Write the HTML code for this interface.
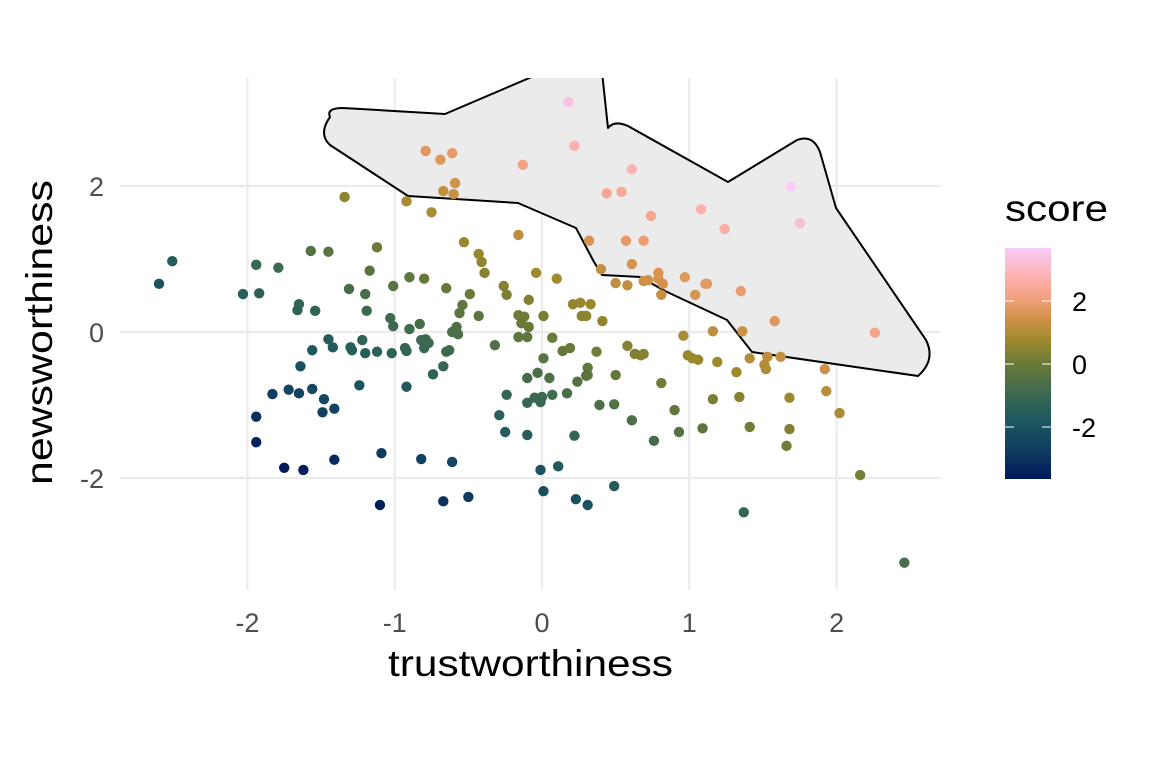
<!DOCTYPE html>
<html><head><meta charset="utf-8"><style>
html,body{margin:0;padding:0;background:#fff;}
svg{display:block;font-family:"Liberation Sans",sans-serif;}
</style></head><body>
<svg id="chart" width="1152" height="768" viewBox="0 0 1152 768">
<defs>
<clipPath id="panelclip"><rect x="0" y="78" width="1152" height="600"/></clipPath>
<linearGradient id="cbar" x1="0" y1="1" x2="0" y2="0">
<stop offset="0" stop-color="#011959"/>
<stop offset="0.125" stop-color="#0f3c5f"/>
<stop offset="0.25" stop-color="#1d5860"/>
<stop offset="0.375" stop-color="#3d6a4f"/>
<stop offset="0.5" stop-color="#6a7a38"/>
<stop offset="0.6" stop-color="#9e892c"/>
<stop offset="0.7" stop-color="#d3924a"/>
<stop offset="0.78" stop-color="#f1a07c"/>
<stop offset="0.88" stop-color="#fcb2b2"/>
<stop offset="1" stop-color="#f9ccf9"/>
</linearGradient>
</defs>
<g id="grid"></g>
<path clip-path="url(#panelclip)" fill="#ebebeb" stroke="#000" stroke-width="2" stroke-linejoin="round"
d="M330,117 Q326,108 343,108 L445,114 L548,70 L602,72 L608,128 Q614,120 628,126 L728,182 L797,140 Q813,134 820,152 L836,208 L926,340 Q936,360 918,376 L752,352 L727,320 L665,291 L640,277 L602,275 L594,262 L576,228 L518,203 L408,196 L330,145 Q318,134 330,117 Z"/>
<g id="points"></g>
<g id="axes"></g>
<text x="388" y="676" font-size="37" textLength="285" lengthAdjust="spacingAndGlyphs" fill="#000">trustworthiness</text>
<text transform="translate(52,485) rotate(-90)" font-size="37" textLength="305" lengthAdjust="spacingAndGlyphs" fill="#000">newsworthiness</text>
<g>
<text x="1005" y="221" font-size="37" textLength="103" lengthAdjust="spacingAndGlyphs" fill="#000">score</text>
<rect x="1005" y="248" width="46" height="231" fill="url(#cbar)"/>
<g id="legendticks"></g>
</g>
</svg>
<script>
const xTicks=[-2,-1,0,1,2];
const yTicks=[-2,0,2];
const legendTicks=[-2,0,2];
const trust=[0.18,0.22,-0.13,0.61,-0.79,-0.69,-0.61,-0.59,-0.67,-0.60,-1.34,-0.92,-0.75,0.44,0.54,0.74,1.08,1.69,1.75,1.24,-0.16,0.32,0.57,0.69,-0.53,-0.43,-0.41,-0.39,-1.57,-1.45,-1.12,-2.51,-1.94,-1.79,0.40,0.61,-0.04,0.10,0.50,0.58,0.69,0.72,0.79,0.82,0.97,1.11,0.79,1.35,-2.60,-2.03,-1.92,-1.17,-0.90,-0.80,-1.31,-1.20,-1.01,-0.65,-0.26,-0.24,-0.49,-0.09,0.21,0.26,0.33,-0.54,-0.56,-1.65,-1.66,-1.54,-1.19,-1.03,-0.43,-0.16,-0.12,-0.14,-0.09,0.01,0.27,0.30,0.41,0.81,1.04,1.12,1.58,1.36,1.16,2.26,-0.83,-0.58,-0.57,-0.61,-1.22,-1.20,-1.01,-0.90,-0.93,-1.45,-0.32,-0.16,-0.10,0.07,0.14,0.19,0.01,-0.92,-0.77,-0.80,-0.63,-0.65,-0.79,-0.82,-0.74,-0.67,-1.42,-1.30,-1.29,-1.12,-1.02,-1.56,0.96,0.99,1.02,1.06,1.19,0.58,0.67,0.63,0.69,0.37,1.41,1.62,1.53,1.32,1.51,1.52,1.92,0.05,-0.03,-0.10,0.31,0.30,0.31,0.24,0.50,0.81,1.34,1.68,1.93,-0.24,0.00,-0.05,-0.01,-0.10,0.07,0.17,0.39,0.49,0.90,2.02,-1.24,-0.92,-1.83,-1.65,-1.64,-1.72,-1.56,-1.48,-1.41,-0.29,0.61,0.76,0.93,1.09,1.16,1.41,1.68,1.66,-1.94,-1.94,-1.49,-0.25,-0.10,0.22,-1.09,-1.75,-1.62,-1.41,-0.82,-0.61,-0.01,0.11,0.01,0.49,0.23,0.31,-0.67,-0.50,-1.10,1.37,2.16,2.46];
const news=[3.15,2.55,2.29,2.23,2.48,2.36,2.45,2.04,1.93,1.89,1.85,1.79,1.64,1.90,1.92,1.59,1.68,1.99,1.49,1.41,1.33,1.25,1.25,1.25,1.23,1.07,0.96,0.81,1.11,1.10,1.16,0.97,0.92,0.88,0.86,0.93,0.81,0.73,0.67,0.64,0.70,0.71,0.73,0.66,0.75,0.66,0.81,0.56,0.66,0.52,0.53,0.84,0.75,0.73,0.59,0.52,0.63,0.60,0.63,0.51,0.52,0.44,0.38,0.40,0.38,0.37,0.26,0.38,0.30,0.29,0.29,0.19,0.22,0.23,0.21,0.12,0.07,0.22,0.22,0.22,0.15,0.51,0.51,0.66,0.15,0.01,0.01,-0.01,0.11,0.07,-0.03,0.00,-0.11,-0.29,0.08,0.04,-0.22,-0.10,-0.18,-0.07,-0.07,-0.08,-0.26,-0.22,-0.36,-0.26,-0.15,-0.22,-0.25,-0.27,-0.10,-0.11,-0.58,-0.47,-0.21,-0.21,-0.25,-0.27,-0.29,-0.25,-0.05,-0.32,-0.36,-0.38,-0.41,-0.19,-0.32,-0.30,-0.30,-0.27,-0.36,-0.34,-0.34,-0.55,-0.45,-0.51,-0.51,-0.63,-0.56,-0.63,-0.49,-0.60,-0.59,-0.68,-0.59,-0.70,-0.89,-0.90,-0.81,-0.86,-0.89,-0.90,-0.96,-0.97,-0.86,-0.84,-1.00,-0.99,-1.07,-1.11,-0.73,-0.75,-0.85,-0.84,-0.47,-0.79,-0.78,-0.92,-1.05,-1.14,-1.21,-1.49,-1.37,-1.32,-0.92,-1.30,-1.33,-1.56,-1.16,-1.51,-1.10,-1.37,-1.41,-1.42,-1.66,-1.86,-1.89,-1.75,-1.74,-1.78,-1.89,-1.84,-2.18,-2.11,-2.29,-2.37,-2.32,-2.26,-2.37,-2.47,-1.96,-3.16];
const score=[3.33,2.77,2.16,2.84,1.69,1.67,1.84,1.45,1.26,1.29,0.51,0.87,0.89,2.34,2.46,2.33,2.76,3.68,3.24,2.65,1.17,1.57,1.82,1.94,0.70,0.64,0.55,0.42,-0.46,-0.35,0.04,-1.54,-1.02,-0.91,1.26,1.54,0.77,0.83,1.17,1.22,1.39,1.43,1.52,1.48,1.72,1.77,1.60,1.91,-1.94,-1.51,-1.39,-0.33,-0.15,-0.07,-0.72,-0.68,-0.38,-0.05,0.37,0.27,0.03,0.35,0.59,0.66,0.71,-0.17,-0.30,-1.27,-1.36,-1.25,-0.90,-0.84,-0.21,0.07,0.09,-0.02,-0.02,0.23,0.49,0.52,0.56,1.32,1.55,1.78,1.73,1.37,1.17,2.25,-0.72,-0.51,-0.60,-0.61,-1.33,-1.49,-0.93,-0.86,-1.15,-1.55,-0.50,-0.23,-0.17,-0.01,-0.12,-0.03,-0.35,-1.18,-0.92,-1.02,-0.88,-0.92,-0.89,-0.93,-1.32,-1.14,-1.63,-1.51,-1.54,-1.39,-1.31,-1.81,0.91,0.67,0.66,0.68,0.78,0.39,0.35,0.33,0.39,0.10,1.05,1.28,1.19,0.77,1.06,1.01,1.41,-0.58,-0.59,-0.73,-0.18,-0.30,-0.28,-0.44,-0.09,0.11,0.45,0.78,1.12,-1.10,-0.89,-0.95,-0.97,-1.07,-0.79,-0.67,-0.61,-0.50,-0.17,0.91,-1.97,-1.67,-2.68,-2.49,-2.11,-2.51,-2.34,-2.40,-2.46,-1.43,-0.60,-0.73,-0.44,-0.23,0.24,0.11,0.35,0.10,-3.10,-3.45,-2.59,-1.62,-1.51,-1.20,-2.75,-3.61,-3.51,-3.16,-2.56,-2.39,-1.90,-1.73,-2.17,-1.62,-2.06,-2.06,-2.99,-2.76,-3.47,-1.10,0.20,-0.70];

const NS="http://www.w3.org/2000/svg";
const X=v=>542+v*147.3, Y=v=>332-v*73.0;
const smin=-3.65, smax=3.68;
const stops=[[0,[1,25,89]],[0.125,[15,60,95]],[0.25,[29,88,96]],[0.375,[61,106,79]],[0.5,[106,122,56]],[0.6,[158,137,44]],[0.7,[211,146,74]],[0.78,[241,160,124]],[0.88,[252,178,178]],[1,[249,204,249]]];
function col(s){let t=Math.max(0,Math.min(1,(s-smin)/(smax-smin)));for(let i=1;i<stops.length;i++){if(t<=stops[i][0]){const a=stops[i-1],b=stops[i];const f=(t-a[0])/(b[0]-a[0]);return 'rgb('+a[1].map((c,k)=>Math.round(c+(b[1][k]-c)*f)).join(',')+')';}}return 'rgb(249,204,249)';}
function mk(tag,attrs,parent){const e=document.createElementNS(NS,tag);for(const k in attrs)e.setAttribute(k,attrs[k]);parent.appendChild(e);return e;}
const grid=document.getElementById('grid');
xTicks.forEach(v=>{
const l=mk('line',{x1:X(v),x2:X(v),y1:78,y2:590,stroke:'#ebebeb','stroke-width':2.2},grid);


});
yTicks.forEach(v=>{
const l=mk('line',{x1:120,x2:940,y1:Y(v),y2:Y(v),stroke:'#ebebeb','stroke-width':2.2},grid);


});
const axes=document.getElementById('axes');
xTicks.forEach(v=>{
const t=mk('text',{x:X(v),y:632,'text-anchor':'middle','font-size':27,fill:'#4d4d4d'},axes);t.textContent=v;


});
yTicks.forEach(v=>{
const t=mk('text',{x:104,y:Y(v)+10,'text-anchor':'end','font-size':27,fill:'#4d4d4d'},axes);t.textContent=v;


});
const pts=document.getElementById('points');
trust.forEach((x,i)=>{
const c=mk('circle',{cx:X(x),cy:Y(news[i]),r:5.2,fill:col(score[i])},pts);


});
const lt=document.getElementById('legendticks');
const LY=v=>364-v*31.5;
legendTicks.forEach(v=>{
mk('line',{x1:1005,x2:1014,y1:LY(v),y2:LY(v),stroke:'#fff','stroke-width':1},lt);
mk('line',{x1:1042,x2:1051,y1:LY(v),y2:LY(v),stroke:'#fff','stroke-width':1},lt);
const t=mk('text',{x:1072,y:LY(v)+10,'font-size':27,fill:'#000'},lt);t.textContent=v;


});
</script>
</body></html>
